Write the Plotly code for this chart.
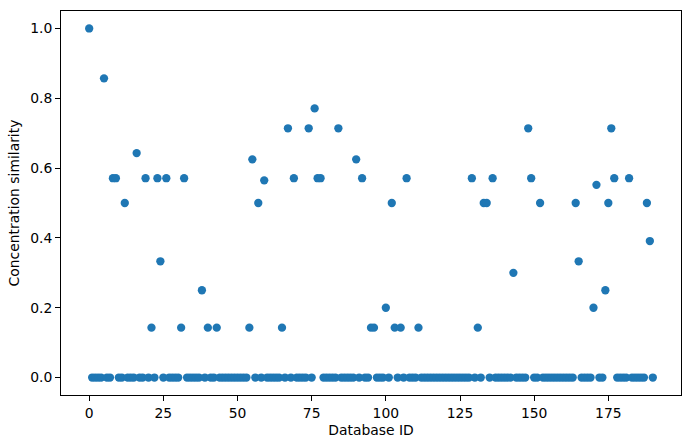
import plotly.graph_objects as go

database_id = list(range(191))
similarity = [
    1.0, 0, 0, 0, 0, 0.857, 0, 0, 0.571, 0.571,
    0, 0, 0.5, 0, 0, 0, 0.643, 0, 0, 0.571,
    0, 0.143, 0, 0.571, 0.333, 0, 0.571, 0, 0, 0,
    0, 0.143, 0.571, 0, 0, 0, 0, 0, 0.25, 0,
    0.143, 0, 0, 0.143, 0, 0, 0, 0, 0, 0,
    0, 0, 0, 0, 0.143, 0.625, 0, 0.5, 0, 0.565,
    0, 0, 0, 0, 0, 0.143, 0, 0.714, 0, 0.571,
    0, 0, 0, 0, 0.714, 0, 0.771, 0.571, 0.571, 0,
    0, 0, 0, 0, 0.714, 0, 0, 0, 0, 0,
    0.625, 0, 0.571, 0, 0, 0.143, 0.143, 0, 0, 0,
    0.2, 0, 0.5, 0.143, 0, 0.143, 0, 0.571, 0, 0,
    0, 0.143, 0, 0, 0, 0, 0, 0, 0, 0,
    0, 0, 0, 0, 0, 0, 0, 0, 0, 0.571,
    0, 0.143, 0, 0.5, 0.5, 0, 0.571, 0, 0, 0,
    0, 0, 0, 0.3, 0, 0, 0, 0, 0.714, 0.571,
    0, 0, 0.5, 0, 0, 0, 0, 0, 0, 0,
    0, 0, 0, 0, 0.5, 0.333, 0, 0, 0, 0,
    0.2, 0.552, 0, 0, 0.25, 0.5, 0.714, 0.571, 0, 0,
    0, 0, 0.571, 0, 0, 0, 0, 0, 0.5, 0.391,
    0,
]
x_ticks = [0, 25, 50, 75, 100, 125, 150, 175]
y_ticks = [0.0, 0.2, 0.4, 0.6, 0.8, 1.0]

fig = go.Figure(go.Scatter(
    x=database_id, y=similarity, mode="markers",
    marker=dict(color="#1f77b4", size=8.3, line=dict(width=0)),
))

font = dict(family="DejaVu Sans", size=13.9, color="black")
axis_common = dict(
    showgrid=False, zeroline=False, showline=True, linecolor="black", linewidth=1,
    mirror=True, ticks="outside", ticklen=5, tickcolor="black", tickwidth=1,
    tickfont=font,
)
fig.update_layout(
    width=691, height=448,
    margin=dict(l=61, r=10, t=11, b=53),
    plot_bgcolor="white", paper_bgcolor="white",
    showlegend=False,
    font=font,
    xaxis=dict(range=[-9.5, 199.5], tickvals=x_ticks,
               title=dict(text="Database ID", font=font, standoff=5), **axis_common),
    yaxis=dict(range=[-0.05, 1.05], tickvals=y_ticks, tickformat=".1f",
               title=dict(text="Concentration similarity", font=font, standoff=7), **axis_common),
)
fig.write_html("out.html")
